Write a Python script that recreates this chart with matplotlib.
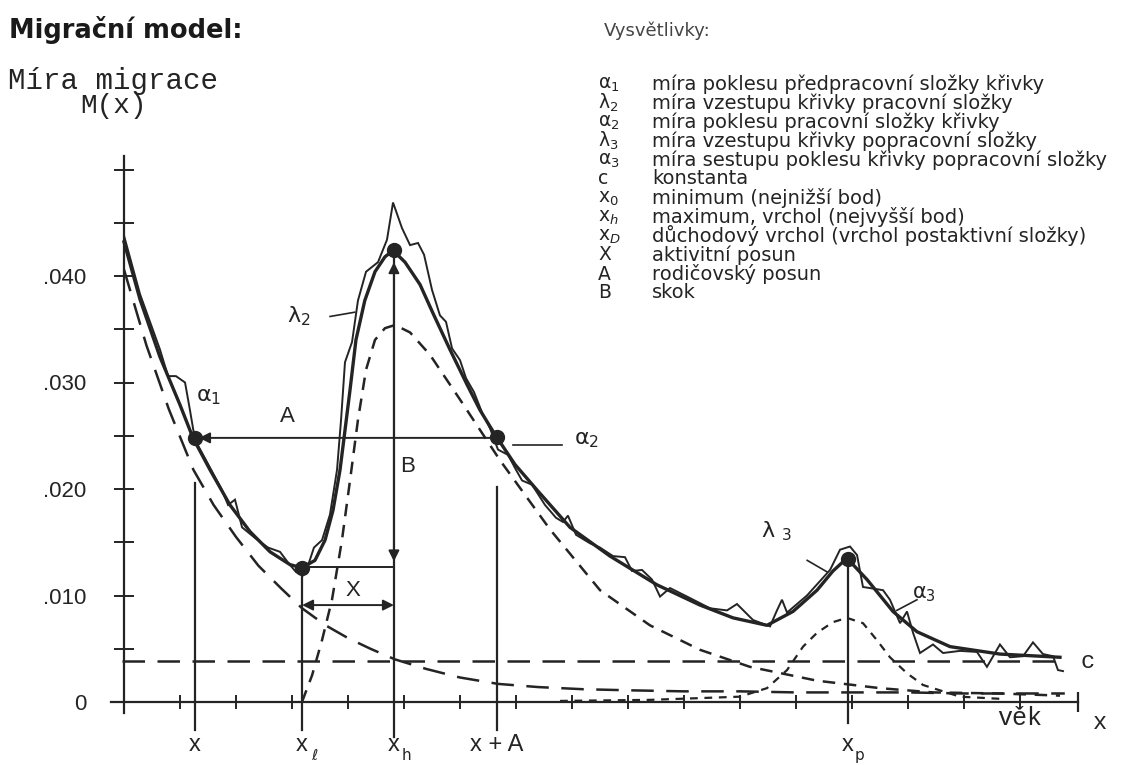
import matplotlib
matplotlib.use("Agg")
import matplotlib.pyplot as plt

W, H = 1147, 765
INK = "#242424"
SANS = ["Liberation Sans", "DejaVu Sans"]
MONO = ["Liberation Mono", "DejaVu Sans Mono"]

# model curve M(x) (age in years, migration rate)
model_age = [0, 1.43, 3.21, 5.0, 6.16, 7.68, 9.46, 11.25, 13.04, 14.82,
             15.89, 17.05, 17.95, 18.66, 19.29, 19.73, 20.18, 20.71, 21.5, 22.41,
             23.3, 24.02, 25.09, 26.43, 27.59, 29.1, 30.63, 31.79, 33.13, 34.91,
             36.88, 39.82, 43.39, 47.59, 51.43, 54.38, 57.41, 59.73, 61.88, 63.3,
             64.55, 66.34, 68.66, 70.8, 73.75, 78.21, 83.57]
model_rate = [0.0432, 0.0378, 0.0324, 0.0279, 0.0248, 0.0218, 0.0185, 0.0160, 0.0141, 0.0129,
              0.0126, 0.0133, 0.0152, 0.0180, 0.0218, 0.0255, 0.0293, 0.0340, 0.0377, 0.0404,
              0.0418, 0.0424, 0.0413, 0.0392, 0.0365, 0.0331, 0.0298, 0.0274, 0.0251, 0.0223,
              0.0199, 0.0164, 0.0137, 0.0110, 0.0091, 0.0079, 0.0072, 0.0085, 0.0105, 0.0123,
              0.0135, 0.0115, 0.0085, 0.0066, 0.0052, 0.0045, 0.0042]

# observed (zig-zag) rates
obs_age = [0, 1.43, 3.21, 3.93, 4.64, 5.45, 5.89, 6.34, 7.68, 8.75,
           9.29, 9.91, 10.54, 11.7, 12.86, 13.93, 14.64, 15.36, 15.98, 16.52,
           16.96, 17.68, 18.39, 19.02, 19.38, 19.73, 20.36, 20.89, 21.61, 22.68,
           23.48, 24.02, 24.82, 25.54, 26.25, 26.79, 27.5, 28.21, 28.75, 29.29,
           30.0, 30.54, 31.25, 31.96, 32.68, 33.39, 34.29, 35.0, 35.54, 36.43,
           37.59, 38.57, 39.2, 39.64, 40.36, 41.61, 42.5, 43.66, 44.73, 45.36,
           46.25, 47.14, 47.86, 48.75, 50.27, 52.32, 53.84, 54.73, 56.16, 57.68,
           58.3, 58.75, 59.2, 60.98, 63.04, 63.93, 64.82, 65.45, 65.98, 67.77,
           68.39, 69.29, 69.91, 70.45, 71.07, 72.23, 73.13, 74.64, 76.16, 77.05,
           78.21, 79.11, 80.27, 81.16, 82.05, 82.95, 83.39, 83.84]
obs_rate = [0.0438, 0.0383, 0.0331, 0.0306, 0.0306, 0.0300, 0.0274, 0.0246, 0.0220, 0.0199,
            0.0185, 0.0190, 0.0164, 0.0154, 0.0145, 0.0141, 0.0131, 0.0122, 0.0119, 0.0131,
            0.0145, 0.0152, 0.0176, 0.0218, 0.0265, 0.0319, 0.0338, 0.0377, 0.0404, 0.0413,
            0.0434, 0.0469, 0.0445, 0.0429, 0.0431, 0.0420, 0.0387, 0.0363, 0.0357, 0.0332,
            0.0321, 0.0304, 0.0291, 0.0272, 0.0257, 0.0237, 0.0232, 0.0218, 0.0208, 0.0204,
            0.0185, 0.0173, 0.0169, 0.0175, 0.0157, 0.0149, 0.0145, 0.0137, 0.0136, 0.0123,
            0.0124, 0.0115, 0.0099, 0.0107, 0.0099, 0.0088, 0.0086, 0.0092, 0.0077, 0.0071,
            0.0086, 0.0096, 0.0084, 0.0100, 0.0124, 0.0143, 0.0146, 0.0138, 0.0108, 0.0105,
            0.0096, 0.0074, 0.0085, 0.0065, 0.0046, 0.0054, 0.0046, 0.0048, 0.0047, 0.0033,
            0.0054, 0.0042, 0.0043, 0.0056, 0.0045, 0.0043, 0.0030, 0.0029]

# components (dashed)
pre_age = [0, 2, 4, 6.2, 8, 10, 12, 14, 15.9, 18, 20, 22, 24.2, 27, 30, 33.4,
           37, 41, 45, 50, 55, 60, 65, 70, 75, 80, 84]
pre_rate = [0.0406, 0.0335, 0.0275, 0.0218, 0.0185, 0.0155, 0.0128, 0.0107, 0.0088,
            0.0072, 0.0060, 0.0050, 0.0040, 0.0031, 0.0023, 0.0017, 0.0014, 0.0012,
            0.0011, 0.0010, 0.0010, 0.0009, 0.0009, 0.0009, 0.0008, 0.0008, 0.0008]

labor_age = [15.89, 16.79, 17.68, 18.57, 19.46, 20.18, 20.89, 21.61, 22.41, 23.3,
             24.2, 25.54, 27.32, 30.0, 33.57, 38.04, 42.5, 46.96, 51.43, 55.89,
             61.88, 67.5, 72.23, 78.2, 83.57]
labor_rate = [0.0, 0.0025, 0.0058, 0.0096, 0.0152, 0.0208, 0.0265, 0.0312, 0.0340, 0.0351,
              0.0354, 0.0347, 0.0326, 0.0284, 0.0227, 0.0162, 0.0105, 0.0072, 0.0049, 0.0033,
              0.0020, 0.0013, 0.0009, 0.0008, 0.0006]

retire_age = [38.93, 46.96, 55.0, 57.41, 59.2, 60.63, 61.88, 63.3, 64.55, 65.98,
              67.23, 68.39, 69.91, 71.34, 72.23, 74.64, 78.21]
retire_rate = [0.0001, 0.0002, 0.0005, 0.0013, 0.0030, 0.0052, 0.0065, 0.0075, 0.0079, 0.0074,
               0.0058, 0.0042, 0.0027, 0.0016, 0.0013, 0.0005, 0.0003]

c_level = 0.00385

# characteristic points
x_pos, x_low, x_high, x_plus_a, x_ret = 6.3, 15.9, 24.1, 33.3, 64.6
point_age = [x_pos, x_low, x_high, x_plus_a, x_ret]
point_rate = [0.0248, 0.0126, 0.0424, 0.0249, 0.0134]

age_ticks = [5, 10, 15, 20, 25, 30, 35, 40, 45, 50, 55, 60, 65, 70, 75, 80]
rate_major = [0, 0.010, 0.020, 0.030, 0.040]
rate_labels = ["0", ".010", ".020", ".030", ".040"]
rate_minor = [0.005, 0.015, 0.025, 0.035, 0.045, 0.050]

legend_symbols = ["α$_1$", "λ$_2$", "α$_2$", "λ$_3$", "α$_3$", "c",
                  "x$_0$", "x$_h$", "x$_D$", "X", "A", "B"]
legend_texts = ["míra poklesu předpracovní složky křivky",
                "míra vzestupu křivky pracovní složky",
                "míra poklesu pracovní složky křivky",
                "míra vzestupu křivky popracovní složky",
                "míra sestupu poklesu křivky popracovní složky",
                "konstanta",
                "minimum (nejnižší bod)",
                "maximum, vrchol (nejvyšší bod)",
                "důchodový vrchol (vrchol postaktivní složky)",
                "aktivitní posun",
                "rodičovský posun",
                "skok"]


def fxy(px, py):
    return px / W, 1 - py / H


fig = plt.figure(figsize=(W / 100, H / 100), dpi=100)
fig.patch.set_facecolor("white")
ax = fig.add_axes([0, 0, 1, 1])
ax.set_xlim(-124 / 11.2, (W - 124) / 11.2)
ax.set_ylim(-(H - 702) / 10650, 702 / 10650)

# axes drawn through the origin
for s in ["top", "right"]:
    ax.spines[s].set_visible(False)
ax.spines["left"].set_position(("data", 0))
ax.spines["bottom"].set_position(("data", 0))
ax.spines["left"].set_bounds(-0.001, 0.0513)
ax.spines["bottom"].set_bounds(-1.2, 85.2)
for s in ["left", "bottom"]:
    ax.spines[s].set_linewidth(1.6)
    ax.spines[s].set_color(INK)

ax.set_xticks(age_ticks)
ax.set_xticklabels([])
ax.tick_params(axis="x", direction="inout", length=10, width=1.4, color=INK)
ax.set_yticks(rate_major)
ax.set_yticklabels(rate_labels, family=SANS, fontsize=16, color=INK)
ax.set_yticks(rate_minor, minor=True)
ax.tick_params(axis="y", which="both", direction="inout", length=14, width=1.4,
               color=INK, pad=20)
ax.plot([85.2], [0], marker="|", ms=14, mew=1.6, color=INK, clip_on=False)

# constant c and components
ax.plot([-0.2, 83.8], [c_level, c_level], color=INK, lw=1.8, dashes=(9, 5))
ax.plot(pre_age, pre_rate, color=INK, lw=1.8, dashes=(9, 5))
ax.plot(labor_age, labor_rate, color=INK, lw=1.8, dashes=(5, 3.5))
ax.plot(retire_age, retire_rate, color=INK, lw=1.6, dashes=(3.5, 3))

# observed and model curves
ax.plot(obs_age, obs_rate, color=INK, lw=1.4, solid_joinstyle="miter")
ax.plot(model_age, model_rate, color=INK, lw=2.4, solid_joinstyle="round")

# vertical guides
ax.plot([x_pos, x_pos], [0.0206, -0.0026], color=INK, lw=1.6)
ax.plot([x_low, x_low], [point_rate[1], -0.0026], color=INK, lw=1.6)
ax.plot([x_high, x_high], [point_rate[2], -0.0033], color=INK, lw=1.6)
ax.plot([x_plus_a, x_plus_a], [0.0202, -0.0026], color=INK, lw=1.6)
ax.plot([x_ret, x_ret], [point_rate[4], -0.0020], color=INK, lw=1.6)
ax.plot([x_low, x_high], [0.0127, 0.0127], color=INK, lw=1.4)

arrow = dict(arrowstyle="-|>", color=INK, lw=1.4, mutation_scale=16,
             shrinkA=0, shrinkB=0)
both = dict(arrow, arrowstyle="<|-|>")
ax.annotate("", xy=(x_pos + 0.4, 0.0248), xytext=(x_plus_a, 0.0248), arrowprops=arrow)
ax.annotate("", xy=(x_high, 0.0413), xytext=(x_high, 0.0132), arrowprops=both)
ax.annotate("", xy=(x_low, 0.0091), xytext=(x_high, 0.0091), arrowprops=both)

ax.plot(point_age, point_rate, "o", ms=10, color=INK)

# leader lines
ax.plot([18.4, 20.6], [0.0362, 0.0366], color=INK, lw=1.2)
ax.plot([34.7, 39.1], [0.0241, 0.0241], color=INK, lw=1.2)
ax.plot([61.0, 62.8], [0.0133, 0.0122], color=INK, lw=1.2)
ax.plot([70.8, 69.0], [0.0096, 0.0086], color=INK, lw=1.2)

# in-plot labels
lab = dict(color=INK, ha="center", va="center")
ax.text(7.6, 0.0286, "α$_1$", fontsize=16, **lab)
ax.text(14.6, 0.0268, "A", fontsize=16, family=SANS, **lab)
ax.text(25.3, 0.0221, "B", fontsize=16, family=SANS, **lab)
ax.text(20.4, 0.0105, "X", fontsize=16, family=SANS, **lab)
ax.text(15.6, 0.0362, "λ$_2$", fontsize=16, **lab)
ax.text(41.3, 0.0246, "α$_2$", fontsize=16, **lab)
ax.text(58.3, 0.0160, "λ $_3$", fontsize=16, **lab)
ax.text(71.4, 0.0101, "α$_3$", fontsize=15, **lab)
ax.text(86.0, 0.0038, "c", fontsize=17, family=MONO, **lab)
ax.text(80.0, -0.0015, "věk", fontsize=18, family=MONO, **lab)
ax.text(87.1, -0.0019, "x", fontsize=17, family=MONO, **lab)

for age, sub in [(x_pos, ""), (x_low, "ℓ"), (x_high, "h"), (x_ret, "p")]:
    ax.text(age, -0.0040, "x", fontsize=17, family=SANS, **lab)
    if sub:
        ax.text(age + 1.1, -0.0050, sub, fontsize=11, family=["DejaVu Sans"], **lab)
ax.text(x_plus_a, -0.0040, "x + A", fontsize=17, family=SANS, **lab)

# titles
fig.text(*fxy(9, 30), "Migrační model:", fontsize=18.5, fontweight="bold",
         family=["DejaVu Sans"], color="#1a1a1a", va="center")
fig.text(*fxy(8, 81), "Míra migrace", fontsize=21, family=MONO, color=INK, va="center")
fig.text(*fxy(80, 106), "M(x)", fontsize=20, family=MONO, color=INK, va="center")

# legend
fig.text(*fxy(604, 31), "Vysvětlivky:", fontsize=13, family=["DejaVu Sans"],
         color="#444444", va="center")
for i, (sym, txt) in enumerate(zip(legend_symbols, legend_texts)):
    py = 84 + 19 * i
    fig.text(*fxy(598, py), sym, fontsize=13.5, family=["DejaVu Sans"],
             color=INK, va="center")
    fig.text(*fxy(652, py), txt, fontsize=14, family=["DejaVu Sans"],
             color=INK, va="center")

fig.savefig("out.png", dpi=100, facecolor="white")
